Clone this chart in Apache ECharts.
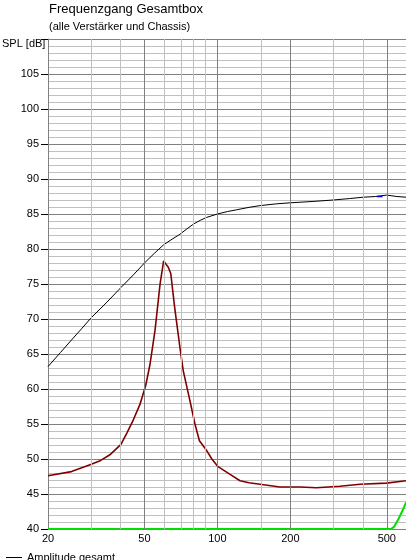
<!DOCTYPE html>
<html>
<head>
<meta charset="utf-8">
<script src="https://cdn.jsdelivr.net/npm/echarts@6/dist/echarts.min.js"></script>
<style>
  html, body { margin: 0; padding: 0; background: #fff; }
  #chart { width: 406px; height: 560px; }
</style>
</head>
<body>
<div id="chart"></div>
<script>
// Frequenzen in Hz, Pegel in dB
const freqGesamt = [20, 22.5, 25, 27.5, 30, 35, 40, 45, 50, 55, 60, 65, 70, 75, 80, 85, 90, 100, 110, 120, 135, 150, 175, 200, 250, 300, 350, 400, 450, 500, 550, 600];
const ampGesamt = [63.2, 65.2, 67.0, 68.6, 70.1, 72.4, 74.5, 76.3, 78.0, 79.4, 80.6, 81.4, 82.1, 82.9, 83.6, 84.1, 84.5, 85.0, 85.35, 85.6, 85.95, 86.2, 86.45, 86.6, 86.8, 87.0, 87.2, 87.4, 87.5, 87.7, 87.5, 87.4];

const freqRot = [20, 25, 30, 33, 36, 40, 42.3, 45, 47.9, 50.6, 52.7, 55.3, 58, 60, 62.7, 64.2, 66.6, 70, 72.3, 76.5, 80.8, 84.3, 90.3, 94.9, 100.6, 112.8, 124, 135, 150, 181, 219, 256, 320, 388, 498, 600];
const ampRot = [47.6, 48.2, 49.2, 49.8, 50.6, 52.1, 53.7, 55.6, 57.8, 60.5, 63.5, 68.4, 75.0, 78.3, 77.4, 76.5, 71.7, 66.0, 62.6, 58.8, 55.0, 52.6, 51.2, 50.0, 48.9, 47.8, 46.9, 46.6, 46.4, 46.0, 46.0, 45.9, 46.1, 46.4, 46.55, 46.9];

const freqGruen = [20, 520, 535, 560, 580, 600];
const ampGruen = [40, 40, 40.3, 41.5, 42.6, 43.8];

const freqBlau = [455, 480];
const ampBlau = [87.5, 87.5];

const xLabels = [20, 50, 100, 200, 500];
const xMinorGrid = [30, 40, 60, 70, 80, 90, 150, 300, 400];
const xMajorGrid = [50, 100, 200, 500];

const lg = f => Math.log10(f);
const toPts = (fs, vs) => fs.map((f, i) => [lg(f), vs[i]]);

const chart = echarts.init(document.getElementById('chart'));

const gridLines = [
  ...xMinorGrid.map(f => ({ xAxis: lg(f), lineStyle: { color: '#c0c0c0' } })),
  ...xMajorGrid.map(f => ({ xAxis: lg(f), lineStyle: { color: '#808080' } }))
];

const font = 'Liberation Sans, Arial, sans-serif';

chart.setOption({
  animation: false,
  backgroundColor: '#fff',
  textStyle: { fontFamily: font },
  title: [
    { text: 'Frequenzgang Gesamtbox', left: 49, top: 3, padding: 0,
      textStyle: { fontSize: 13, fontWeight: 'normal', color: '#000', fontFamily: font } },
    { text: '(alle Verstärker und Chassis)', left: 49, top: 21, padding: 0,
      textStyle: { fontSize: 11, fontWeight: 'normal', color: '#000', fontFamily: font } },
    { text: 'SPL [dB]', left: 2, top: 38, padding: 0,
      textStyle: { fontSize: 11, fontWeight: 'normal', color: '#000', fontFamily: font } }
  ],
  legend: {
    data: ['Amplitude gesamt'],
    left: 6, top: 552, padding: 0,
    selectedMode: false,
    icon: 'rect', itemWidth: 16, itemHeight: 1, itemGap: 6,
    textStyle: { fontSize: 11, color: '#000', fontFamily: font }
  },
  grid: { left: 48, right: 0, top: 39, bottom: 31 },
  xAxis: {
    type: 'value',
    min: lg(20), max: lg(600),
    axisLine: { show: true, lineStyle: { color: '#808080' } },
    axisTick: { show: false },
    splitLine: { show: false },
    axisLabel: {
      customValues: xLabels.map(lg),
      formatter: v => String(Math.round(Math.pow(10, v))),
      color: '#000', fontSize: 11, margin: 4, fontFamily: font
    }
  },
  yAxis: {
    type: 'value',
    min: 40, max: 110, interval: 5,
    axisLine: { show: true, lineStyle: { color: '#808080' } },
    axisTick: { show: true, length: 7, lineStyle: { color: '#000' } },
    axisLabel: {
      formatter: v => (v === 110 ? '' : String(v)),
      color: '#000', fontSize: 11, margin: 9, fontFamily: font
    },
    splitLine: { show: true, lineStyle: { color: '#808080', width: 1 } },
    minorTick: { show: false, splitNumber: 5 },
    minorSplitLine: { show: true, lineStyle: { color: '#c0c0c0', width: 1 } }
  },
  series: [
    {
      name: 'raster', type: 'line', data: [[lg(20), 40]], showSymbol: false, z: 1,
      lineStyle: { opacity: 0 },
      markLine: { silent: true, symbol: 'none', label: { show: false }, data: gridLines,
        lineStyle: { type: 'solid', width: 1 } }
    },
    {
      name: 'Chassis', type: 'line', data: toPts(freqRot, ampRot), showSymbol: false, z: 3,
      lineStyle: { color: '#800000', width: 1.6 }, itemStyle: { color: '#800000' }
    },
    {
      name: 'Hochpass', type: 'line', data: toPts(freqGruen, ampGruen), showSymbol: false, z: 3,
      lineStyle: { color: '#00e000', width: 2 }, itemStyle: { color: '#00e000' }
    },
    {
      name: 'Amplitude gesamt', type: 'line', data: toPts(freqGesamt, ampGesamt), showSymbol: false, z: 4,
      lineStyle: { color: '#000', width: 1 }, itemStyle: { color: '#000' }
    },
    {
      name: 'Phase', type: 'line', data: toPts(freqBlau, ampBlau), showSymbol: false, z: 5,
      lineStyle: { color: '#0000ff', width: 1.5 }, itemStyle: { color: '#0000ff' }
    }
  ]
});
</script>
</body>
</html>
